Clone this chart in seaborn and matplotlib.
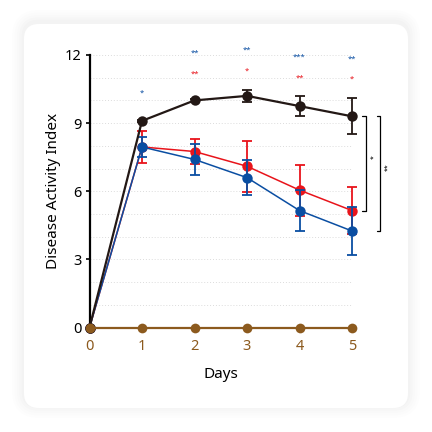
import numpy as np
import pandas as pd
import matplotlib
matplotlib.use("Agg")
import matplotlib.pyplot as plt
from matplotlib.patches import FancyBboxPatch
import seaborn as sns

# ---- data ----
days = [0, 1, 2, 3, 4, 5]
black_mean = [0, 9.1, 10.0, 10.2, 9.75, 9.3]
black_err = [0, 0.05, 0.05, 0.27, 0.43, 0.8]
red_mean = [0, 7.95, 7.75, 7.1, 6.05, 5.15]
red_err = [0, 0.7, 0.57, 1.13, 1.12, 1.04]
blue_mean = [0, 7.95, 7.4, 6.6, 5.15, 4.25]
blue_err = [0, 0.43, 0.67, 0.76, 0.9, 1.05]
brown_mean = [0, 0, 0, 0, 0, 0]

blue_star_days = [1, 2, 3, 4, 5]
blue_star_text = ["*", "**", "**", "***", "**"]
blue_star_y = [10.3, 12.1, 12.2, 11.9, 11.8]
red_star_days = [2, 3, 4, 5]
red_star_text = ["**", "*", "**", "*"]
red_star_y = [11.15, 11.3, 11.0, 10.95]

yticks = [0, 3, 6, 9, 12]

C_BLACK = "#231815"
C_RED = "#e8141b"
C_BLUE = "#0a4ea2"
C_BROWN = "#8c5a1e"

sns.set_theme(style="white")
plt.rcParams["font.family"] = ["Noto Sans", "DejaVu Sans"]

W = H = 432
fig = plt.figure(figsize=(4.32, 4.32), dpi=100)
fig.patch.set_facecolor("white")

# card with soft shadow
cx0, cy0, cx1, cy1 = 24, 24, 408, 408
for i, a in enumerate([0.006, 0.007, 0.008, 0.010, 0.012]):
    g = 12 - 2.4 * i
    sh = FancyBboxPatch(((cx0 - g) / W, (H - cy1 - g + 2) / H), (cx1 - cx0 + 2 * g) / W,
                        (cy1 - cy0 + 2 * g) / H,
                        boxstyle="round,pad=0,rounding_size=%f" % ((15 + g) / W),
                        transform=fig.transFigure, facecolor="black", alpha=a,
                        edgecolor="none", zorder=0)
    fig.patches.append(sh)
card = FancyBboxPatch((cx0 / W, (H - cy1) / H), (cx1 - cx0) / W, (cy1 - cy0) / H,
                      boxstyle="round,pad=0,rounding_size=%f" % (15 / W),
                      transform=fig.transFigure, facecolor="white", edgecolor="none", zorder=1)
fig.patches.append(card)

# axes: x 0 at 89.5px, 5 at 352px; y 0 at 327.5px, 12 at 55px (from top)
left, right = 89.5, 352.0
top, bottom = 55.0, 327.5
ax = fig.add_axes([left / W, (H - bottom) / H, (right - left) / W, (bottom - top) / H])
ax.set_facecolor("none")
ax.set_zorder(2)

# gridlines
for g in range(1, 13):
    ax.axhline(g, 0, 1, color="#dcdcdc", lw=0.7, ls=(0, (1, 2)), zorder=0, clip_on=False)

df = pd.DataFrame({
    "day": days * 4,
    "value": red_mean + blue_mean + black_mean + brown_mean,
    "group": ["red"] * 6 + ["blue"] * 6 + ["black"] * 6 + ["brown"] * 6,
})

series = [("red", red_mean, red_err, C_RED, 1.1, 3),
          ("blue", blue_mean, blue_err, C_BLUE, 1.1, 4),
          ("black", black_mean, black_err, C_BLACK, 1.6, 5)]
for name, m, e, c, lw, z in series:
    ax.errorbar(days[1:], m[1:], yerr=e[1:], fmt="none", ecolor=c, elinewidth=1.3,
                capsize=3.5, capthick=1.3, zorder=z, clip_on=False)
    sns.lineplot(data=df[df.group == name], x="day", y="value", color=c, lw=lw,
                 marker="o", markersize=7.5, markeredgewidth=0, ax=ax, zorder=z,
                 clip_on=False, legend=False)
sns.lineplot(data=df[df.group == "brown"], x="day", y="value", color=C_BROWN, lw=1.6,
             marker="o", markersize=7, markeredgewidth=0, ax=ax, zorder=6,
             clip_on=False, legend=False)

# significance stars
for d, t, y in zip(blue_star_days, blue_star_text, blue_star_y):
    ax.text(d, y, t, color=C_BLUE, fontsize=5.5, ha="center", va="center", fontweight="bold")
for d, t, y in zip(red_star_days, red_star_text, red_star_y):
    ax.text(d, y, t, color=C_RED, fontsize=5.5, ha="center", va="center", fontweight="bold")

# brackets on right
def bracket(x, y0, y1, txt, tx):
    ax.plot([x - 0.07, x, x, x - 0.07], [y0, y0, y1, y1], color="black", lw=0.9,
            clip_on=False, transform=ax.transData)
    ax.text(tx, (y0 + y1) / 2 + 0.3, txt, fontsize=5, rotation=90, ha="center", va="center",
            color="black")

bracket(5.27, black_mean[5], red_mean[5], "*", 5.41)
bracket(5.54, black_mean[5], blue_mean[5], "**", 5.68)

ax.set_xlim(0, 5)
ax.set_ylim(0, 12)
ax.set_xticks(days)
ax.set_yticks(yticks)
ax.set_xticklabels([str(d) for d in days], color=C_BROWN, fontsize=10.5)
ax.set_yticklabels([str(t) for t in yticks], color="black", fontsize=10.5)
ax.tick_params(axis="x", length=0, pad=8.5)
ax.tick_params(axis="y", length=3, width=1.2, color="black", pad=2.5, left=True)

for s in ["top", "right", "bottom"]:
    ax.spines[s].set_visible(False)
ax.spines["left"].set_color("black")
ax.spines["left"].set_linewidth(1.6)

ax.set_xlabel("Days", fontsize=11, color="black", va="center")
ax.xaxis.set_label_coords(0.5, -47.5 / (bottom - top))
ax.set_ylabel("Disease Activity Index", fontsize=11, color="black", va="center")
ax.yaxis.set_label_coords((54 - left) / (right - left), 0.5)

fig.savefig("out.png", dpi=100, facecolor=fig.get_facecolor())
